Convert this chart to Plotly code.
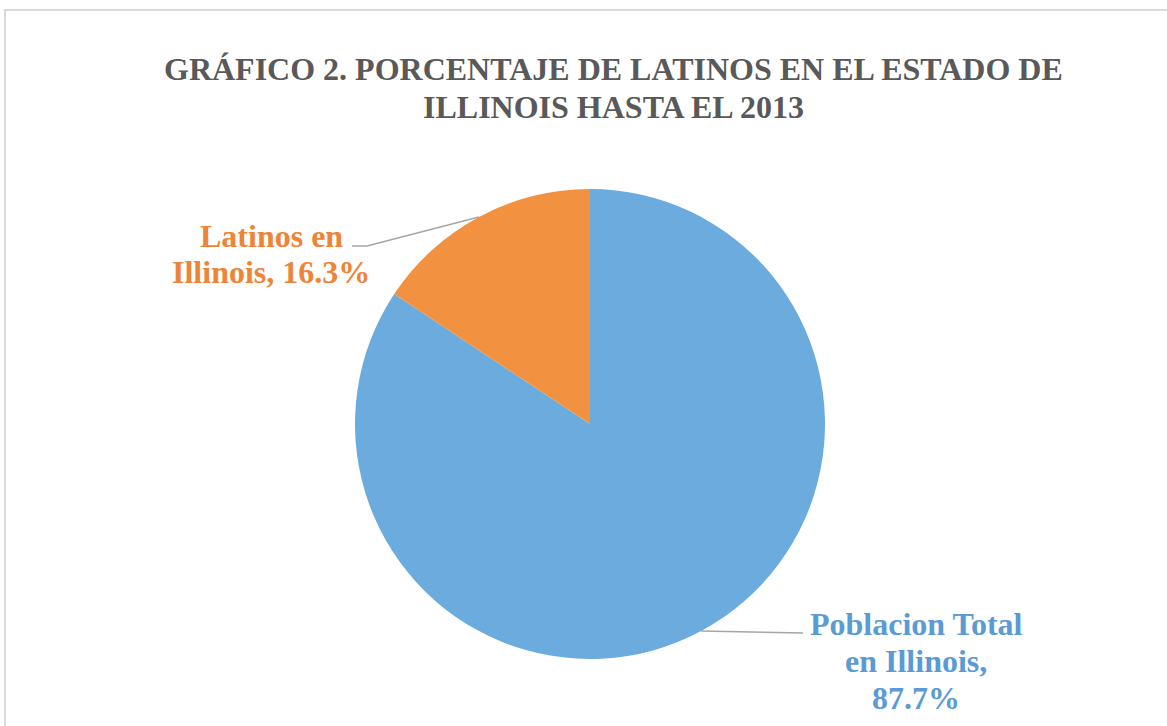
import math
import plotly.graph_objects as go

labels = ["Poblacion Total en Illinois", "Latinos en Illinois"]
values = [87.7, 16.3]
colors = ["#6CABDD", "#F29241"]
text_colors = ["#5B9BD5", "#EE8436"]
label_lines = [["Poblacion Total", "en Illinois,", "87.7%"], ["Latinos en", "Illinois, 16.3%"]]
title_lines = ["GRÁFICO 2. PORCENTAJE DE LATINOS EN EL ESTADO DE", "ILLINOIS HASTA EL 2013"]

W, H = 1167, 726
cx, cy, R = 590, 424, 235  # pie centre / radius in px

def px(x):
    return x / W

def py(y):
    return 1 - y / H

fig = go.Figure(go.Pie(
    labels=labels, values=values, sort=False, direction="clockwise", rotation=0,
    marker=dict(colors=colors, line=dict(width=0)), textinfo="none", hoverinfo="label+value",
    domain=dict(x=[px(cx - R), px(cx + R)], y=[py(cy + R), py(cy - R)]),
    showlegend=False,
))

# mid-angle points on the pie edge, derived from values
total = sum(values)
cum = 0
edge = []
for v in values:
    mid = (cum + v / 2) / total * 2 * math.pi
    edge.append((cx + R * math.sin(mid), cy - R * math.cos(mid)))
    cum += v

ann = []
FONT = "Liberation Serif"
for i, line in enumerate(title_lines):
    ann.append(dict(text=f"<b>{line}</b>", x=px(613), y=py(69 + 38 * i), xref="paper", yref="paper",
                    showarrow=False, xanchor="center", yanchor="middle",
                    font=dict(family=FONT, size=32, color="#595959")))

label_pos = [(916, 624, 37), (271, 236, 36)]
for k, lines in enumerate(label_lines):
    lx, ly, sp = label_pos[k]
    for j, line in enumerate(lines):
        ann.append(dict(text=f"<b>{line}</b>", x=px(lx), y=py(ly + sp * j), xref="paper", yref="paper",
                        showarrow=False, xanchor="center", yanchor="middle",
                        font=dict(family=FONT, size=32, color=text_colors[k])))

shapes = [
    dict(type="rect", xref="paper", yref="paper", x0=px(5), y0=-0.02, x1=1.02, y1=py(10),
         line=dict(color="#D9D9D9", width=2), layer="below"),
]
# leader lines
bx, by = edge[0]
shapes.append(dict(type="path", xref="paper", yref="paper",
                   path=f"M {px(bx)} {py(by)} L {px(803)} {py(633)}",
                   line=dict(color="#A6A6A6", width=1.5)))
ox, oy = edge[1]
shapes.append(dict(type="path", xref="paper", yref="paper",
                   path=f"M {px(ox)} {py(oy)} L {px(367)} {py(246)} L {px(352)} {py(246)}",
                   line=dict(color="#A6A6A6", width=1.5)))

fig.update_layout(width=W, height=H, margin=dict(l=0, r=0, t=0, b=0),
                  paper_bgcolor="white", plot_bgcolor="white",
                  annotations=ann, shapes=shapes)
fig.write_html("out.html")
